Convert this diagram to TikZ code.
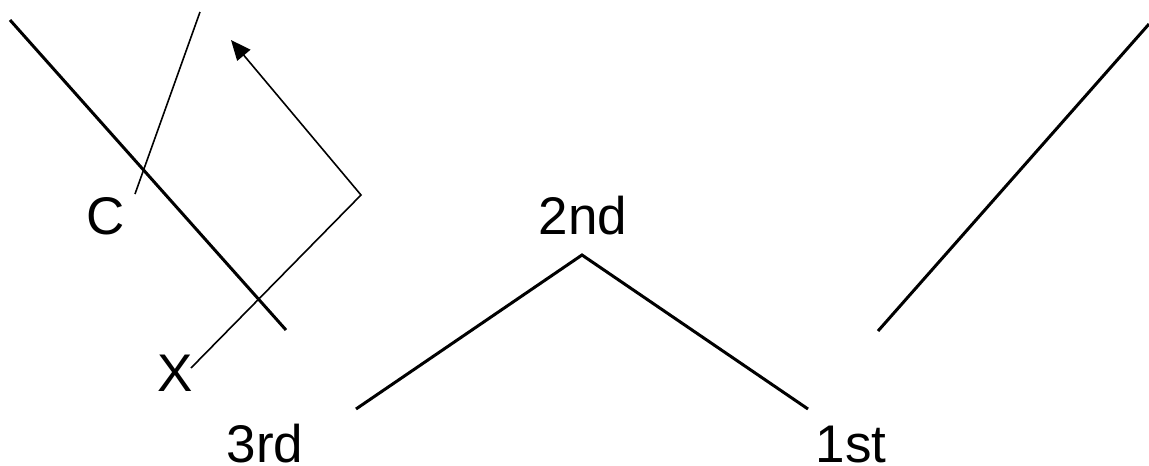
\documentclass[tikz,border=0pt]{standalone}
\usepackage{fontspec}
\setmainfont{Liberation Sans}
\usetikzlibrary{arrows.meta}
\begin{document}
\begin{tikzpicture}[x=1pt,y=-1pt,
  thickline/.style={line width=3pt,line cap=butt},
  thinline/.style={line width=1.6pt},
  lbl/.style={font=\fontsize{53}{63}\selectfont,inner sep=0pt,anchor=base}]
\useasboundingbox (0,0) rectangle (1149,466);
% coordinates
\coordinate (a1) at (10,20);
\coordinate (a2) at (286,330);
\coordinate (c1) at (200,12);
\coordinate (c2) at (135,194);
\coordinate (x1) at (191,368);
\coordinate (k) at (361,195);
\coordinate (tip) at (231,40);
\coordinate (v1) at (356,409);
\coordinate (v2) at (582,255);
\coordinate (v3) at (808,409);
\coordinate (r1) at (878,331);
\coordinate (r2) at (1149,24);
% labels
\node[lbl] (C) at (106,234) {C};
\node[lbl] (X) at (175,391) {X};
\node[lbl] (second) at (583,234) {2nd};
\node[lbl] (third) at (265,462) {3rd};
\node[lbl] (first) at (851,462) {1st};
% lines
\draw[thickline] (a1) -- (a2);
\draw[thinline] (c1) -- (c2);
\draw[thinline,-{Triangle[length=20pt,width=17pt]}] (x1) -- (k) -- (tip);
\draw[thickline,line join=miter] (v1) -- (v2) -- (v3);
\draw[thickline] (r1) -- (r2);
\end{tikzpicture}
\end{document}
